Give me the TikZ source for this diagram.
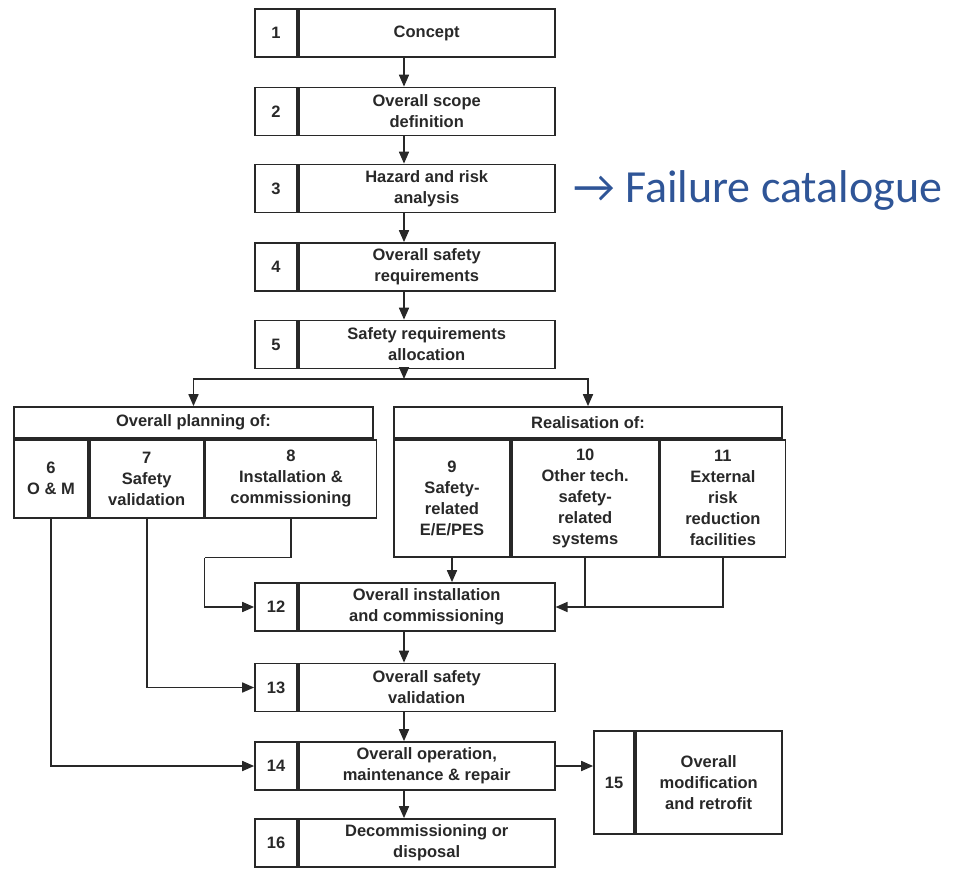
\documentclass[tikz,border=0pt]{standalone}
\usepackage{fontspec}
\setmainfont{Liberation Sans}
\newfontfamily\calfont{Carlito}
\usetikzlibrary{positioning,arrows.meta}
\definecolor{ink}{RGB}{40,40,40}
\definecolor{catblue}{RGB}{47,85,151}
\begin{document}
\begin{tikzpicture}[x=1pt, y=-1pt, font=\bfseries\fontsize{16.5}{21}\selectfont, text=ink,
  num/.style={draw=ink, line width=1.7pt, minimum width=42pt, minimum height=48pt, inner sep=2pt},
  txt/.style={draw=ink, line width=1.7pt, minimum width=256pt, minimum height=48pt, inner sep=2pt, align=center},
  head/.style={draw=ink, line width=1.7pt, minimum height=31pt, inner sep=2pt},
  cell/.style={draw=ink, line width=1.7pt, inner sep=2pt, align=center},
  arr/.style={draw=ink, line width=1.7pt, -{Triangle[length=12pt,width=10pt]}},
  lin/.style={draw=ink, line width=1.7pt}]
\useasboundingbox (0,0) rectangle (955,869);
\coordinate (mid) at (404,0);
% main column
\node[num] (n1) at (276,33) {1};
\node[txt, right=0pt of n1] (b1) {Concept};
\node[num] (n2) at (276,111.5) {2};
\node[txt, right=0pt of n2] (b2) {Overall scope\\definition};
\node[num] (n3) at (276,188.5) {3};
\node[txt, right=0pt of n3] (b3) {Hazard and risk\\analysis};
\node[num] (n4) at (276,267) {4};
\node[txt, right=0pt of n4] (b4) {Overall safety\\requirements};
\node[num] (n5) at (276,344.5) {5};
\node[txt, right=0pt of n5] (b5) {Safety requirements\\allocation};
\node[anchor=base west, inner sep=0pt, font=\calfont\fontsize{46}{54}\selectfont, text=catblue] (fail) at (573,202) {→ Failure catalogue};
% planning and realisation
\node[head, minimum width=359pt] (plan) at (193.5,422.5) {Overall planning of:};
\node[cell, minimum width=74pt, minimum height=78pt, below right=0pt and 0pt of plan.south west] (c6) {6\\O \& M};
\node[cell, minimum width=114pt, minimum height=78pt, right=0pt of c6] (c7) {7\\Safety\\validation};
\node[cell, minimum width=171pt, minimum height=78pt, right=0pt of c7] (c8) {8\\Installation \&\\commissioning};
\node[head, minimum width=388pt] (real) at (588,422.5) {Realisation of:};
\node[cell, minimum width=116pt, minimum height=117pt, below right=0pt and 0pt of real.south west] (c9) {9\\Safety-\\related\\E/E/PES};
\node[cell, minimum width=147pt, minimum height=117pt, right=0pt of c9] (c10) {10\\Other tech.\\safety-\\related\\systems};
\node[cell, minimum width=125pt, minimum height=117pt, right=0pt of c10] (c11) {11\\External\\risk\\reduction\\facilities};
% lower column
\node[num] (n12) at (276,607) {12};
\node[txt, right=0pt of n12] (b12) {Overall installation\\and commissioning};
\node[num] (n13) at (276,687.5) {13};
\node[txt, right=0pt of n13] (b13) {Overall safety\\validation};
\node[num] (n14) at (276,766) {14};
\node[txt, right=0pt of n14] (b14) {Overall operation,\\maintenance \& repair};
\node[num] (n16) at (276,843) {16};
\node[txt, right=0pt of n16] (b16) {Decommissioning or\\disposal};
\node[num, minimum width=40pt, minimum height=103pt] (n15) at (614,782.5) {15};
\node[txt, minimum width=146pt, minimum height=103pt, right=0pt of n15] (b15) {Overall\\modification\\and retrofit};
% connectors
\draw[arr] (b1.south -| mid) -- (b2.north -| mid);
\draw[arr] (b2.south -| mid) -- (b3.north -| mid);
\draw[arr] (b3.south -| mid) -- (b4.north -| mid);
\draw[arr] (b4.south -| mid) -- (b5.north -| mid);
\coordinate (split) at (404,379);
\draw[arr] (b5.south -| mid) -- (split);
\draw[arr] (split) -| (plan.north);
\draw[arr] (split) -| (real.north);
\coordinate (bend8) at (c7.east |- c9.south);
\draw[arr] (c6.south) |- (n14.west);
\draw[arr] (c7.south) |- (n13.west);
\draw[lin] (c8.south) |- (bend8);
\draw[arr] (bend8) |- (n12.west);
\draw[arr] (c9.south) -- (c9.south |- b12.north);
\draw[lin] (c11.south) |- (c10.south |- b12.east);
\draw[arr] (c10.south) |- (b12.east);
\draw[arr] (b12.south -| mid) -- (b13.north -| mid);
\draw[arr] (b13.south -| mid) -- (b14.north -| mid);
\draw[arr] (b14.south -| mid) -- (b16.north -| mid);
\draw[arr] (b14.east) -- (b14.east -| n15.west);
\end{tikzpicture}
\end{document}
